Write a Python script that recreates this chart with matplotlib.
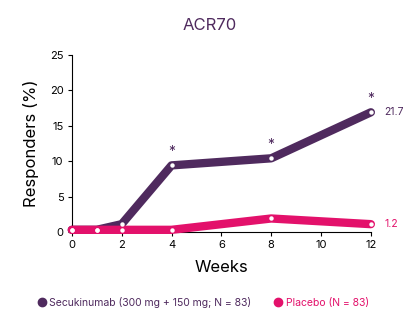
import matplotlib
matplotlib.use("Agg")
import matplotlib.pyplot as plt
from matplotlib.lines import Line2D

plt.rcParams['font.family'] = ['Inter', 'DejaVu Sans']

weeks = [0, 1, 2, 4, 8, 12]
secukinumab = [0.3, 0.3, 1.1, 9.4, 10.4, 16.9]
placebo = [0.3, 0.3, 0.3, 0.3, 1.9, 1.1]
star_weeks = [4, 8, 12]
end_labels = ["21.7", "1.2"]
xticks = [0, 2, 4, 6, 8, 10, 12]
yticks = [0, 5, 10, 15, 20, 25]

purple = "#4f2a5e"
pink = "#e3116b"

fig = plt.figure(figsize=(4.2, 3.29), dpi=100)
ax = fig.add_axes([0.171, 0.295, 0.712, 0.538])

ax.plot(weeks, secukinumab, color=purple, lw=6, solid_capstyle="round",
        solid_joinstyle="round", zorder=2, clip_on=False)
ax.plot(weeks, placebo, color=pink, lw=6, solid_capstyle="round",
        solid_joinstyle="round", zorder=3, clip_on=False)
ax.plot(weeks, secukinumab, "o", color="white", ms=3.2, mew=0, zorder=4,
        clip_on=False)
ax.plot(weeks, placebo, "o", color="white", ms=3.2, mew=0, zorder=5,
        clip_on=False)

for w in star_weeks:
    i = weeks.index(w)
    ax.text(w, secukinumab[i] + 0.9, "*", color=purple, ha="center",
            va="bottom", fontsize=10)

ax.text(weeks[-1] + 0.55, secukinumab[-1], end_labels[0], color=purple,
        va="center", ha="left", fontsize=7.5, clip_on=False)
ax.text(weeks[-1] + 0.55, placebo[-1], end_labels[1], color=pink,
        va="center", ha="left", fontsize=7.5, clip_on=False)

ax.set_xlim(0, 12)
ax.set_ylim(0, 25)
ax.set_xticks(xticks)
ax.set_yticks(yticks)
ax.tick_params(labelsize=8, length=3, width=0.8, pad=3)
for s in ["top", "right"]:
    ax.spines[s].set_visible(False)
for s in ["left", "bottom"]:
    ax.spines[s].set_linewidth(0.8)
ax.set_xlabel("Weeks", fontsize=12, labelpad=7)
ax.set_ylabel("Responders (%)", fontsize=12, labelpad=8)

fig.text(0.5, 0.924, "ACR70", color=purple, fontsize=12, ha="center",
         va="center")

handles = [
    Line2D([], [], marker="o", ls="", color=purple, ms=6),
    Line2D([], [], marker="o", ls="", color=pink, ms=6),
]
leg = fig.legend(handles, ["Secukinumab (300 mg + 150 mg; N = 83)",
                           "Placebo (N = 83)"],
                 loc="center", bbox_to_anchor=(0.484, 0.082), ncol=2,
                 frameon=False, fontsize=7.5, handletextpad=0.3,
                 columnspacing=2.2, handlelength=0.8)
for t, c in zip(leg.get_texts(), [purple, pink]):
    t.set_color(c)

fig.savefig("out.png", dpi=100)
